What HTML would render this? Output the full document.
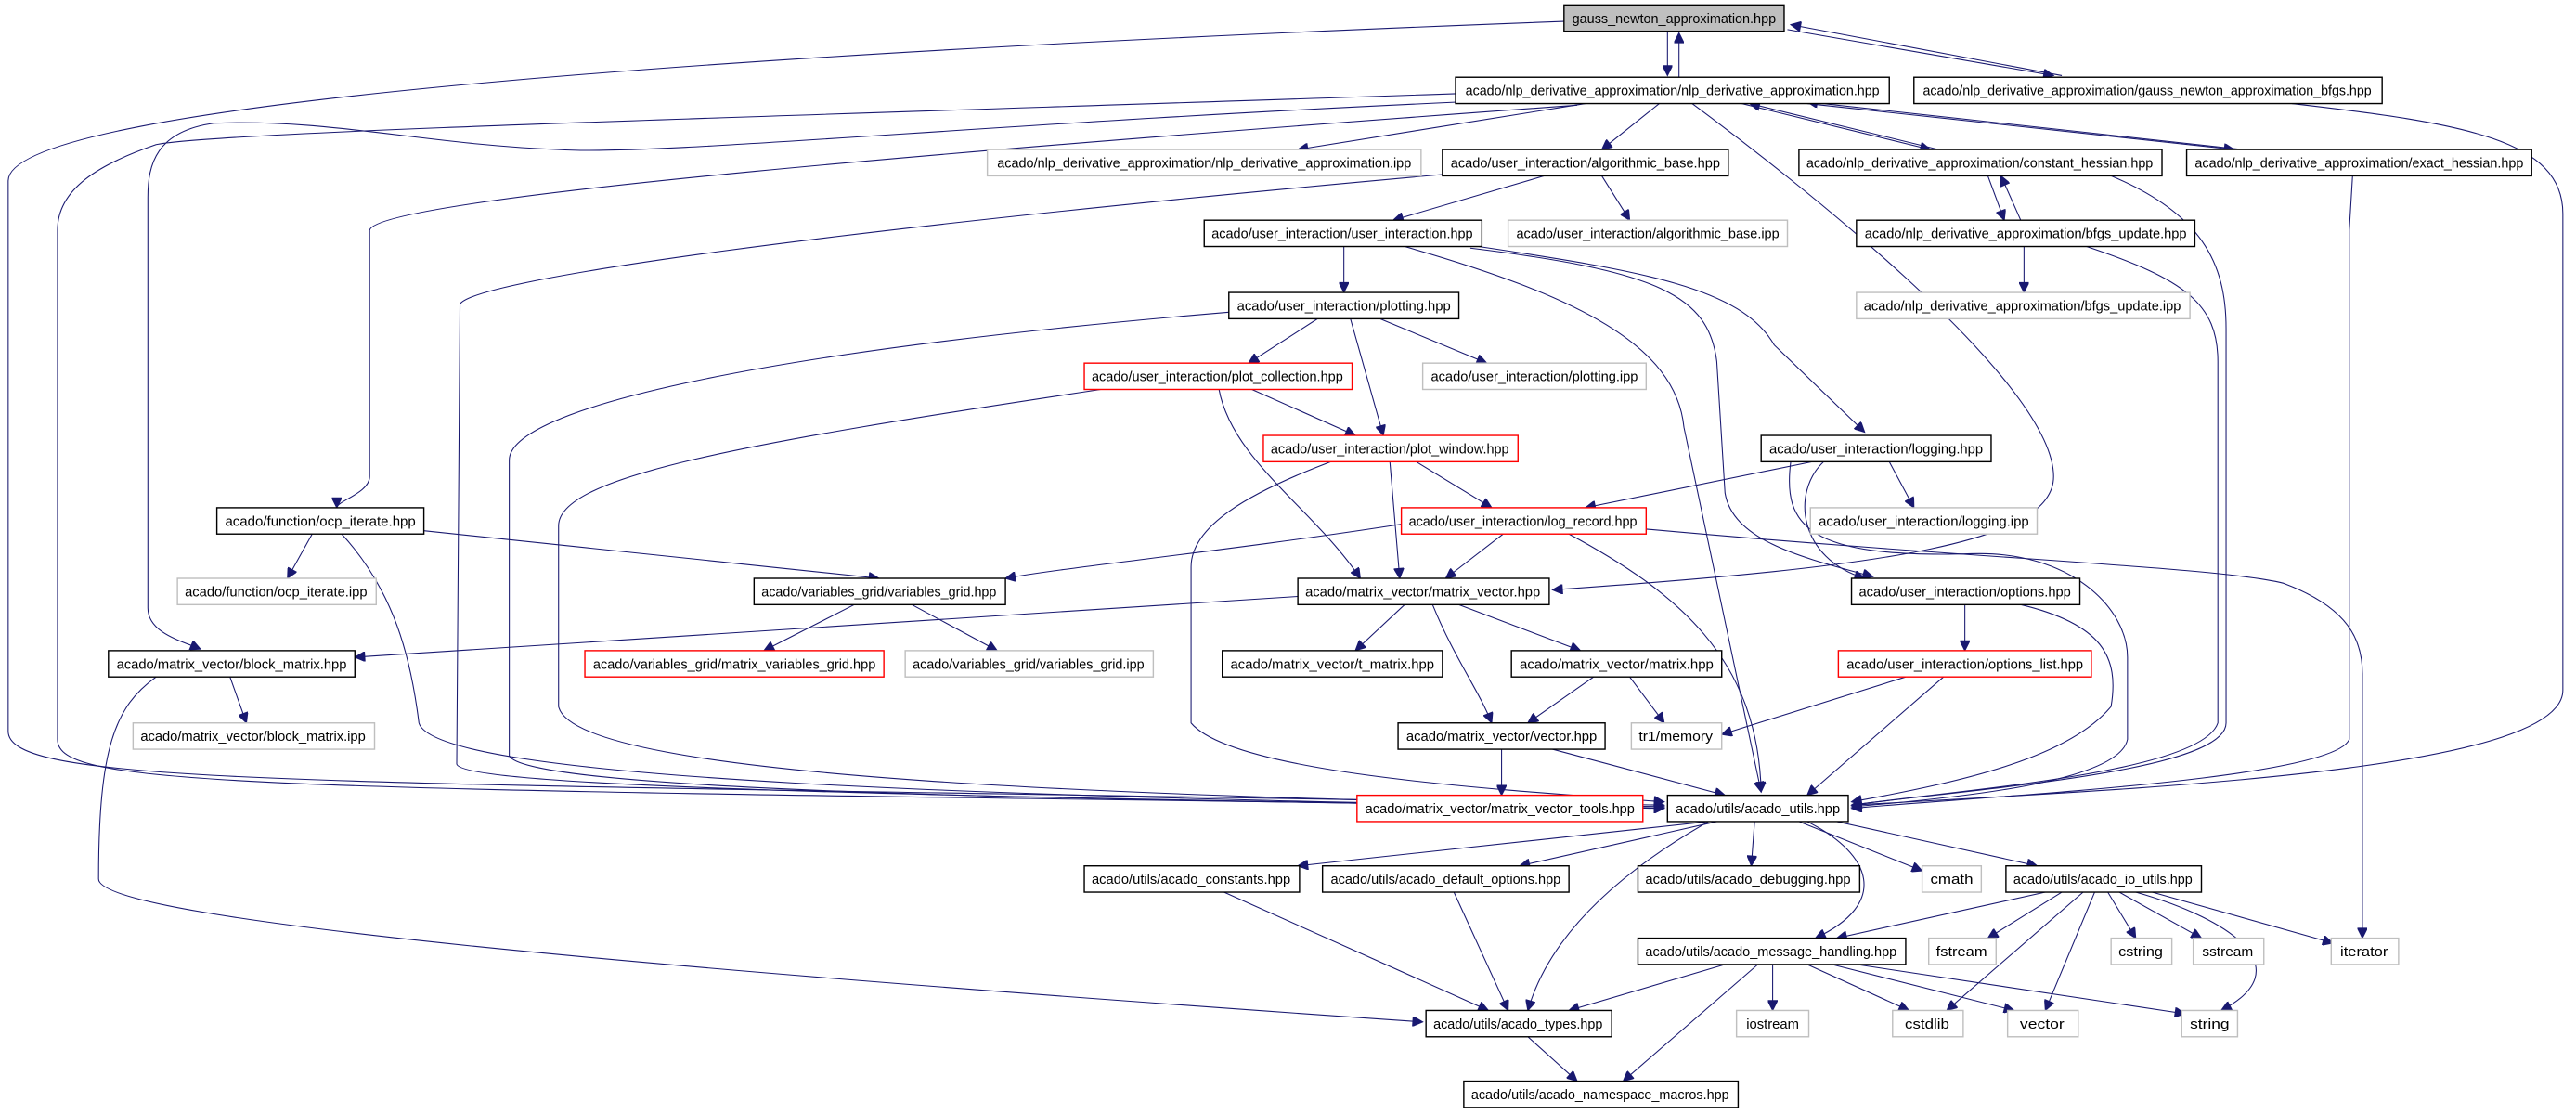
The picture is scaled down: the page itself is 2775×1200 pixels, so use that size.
<!DOCTYPE html>
<html><head><meta charset="utf-8"><style>
html,body{margin:0;padding:0;background:#fff;width:2775px;height:1200px;overflow:hidden}
svg{display:block}
text{font-family:"Liberation Sans","DejaVu Sans",sans-serif;font-size:8.5px;fill:#000}
.n{fill:#fff;stroke:#000;stroke-width:0.8}
.g{fill:#fff;stroke:#bfbfbf;stroke-width:0.8}
.r{fill:#fff;stroke:#ff0000;stroke-width:0.8}
.e path{fill:none;stroke:#191970;stroke-width:0.6;marker-end:url(#a)}
</style></head><body>
<svg width="2775" height="1200" viewBox="0 0 1568 678" xmlns="http://www.w3.org/2000/svg">
<defs><marker id="a" markerUnits="userSpaceOnUse" viewBox="0 0 10 10" markerWidth="8" markerHeight="6" refX="10" refY="5" orient="auto"><path d="M0,0 L10,5 L0,10 z" fill="#191970" stroke="#191970"/></marker></defs>
<g class="e">
<path d="M952,13 C500,30 5,60 5,110 L5,445 C5,480 200,475 1013,490"/>
<path d="M1015,19 L1015,46"/>
<path d="M1022,47 L1022,20"/>
<path d="M1088,18 L1250,46"/>
<path d="M1255,46 L1090,15"/>
<path d="M1395,63 C1500,75 1560,85 1560,130 L1560,420 C1560,470 1300,480 1127,490"/>
<path d="M890,62 C600,75 400,95 340,91 C260,88 200,72 130,75 C95,80 90,100 90,120 L90,370 C90,385 110,390 122,395"/>
<path d="M886,57 C500,70 130,80 95,88 C60,100 35,115 35,140 L35,450 C35,480 150,480 1013,491"/>
<path d="M960,64 C600,90 230,120 225,140 L225,290 C225,300 205,305 205,309"/>
<path d="M965,63 L790,91"/>
<path d="M1010,63 L975,91"/>
<path d="M1060,63 L1175,91"/>
<path d="M1180,91 L1065,63"/>
<path d="M1100,63 L1360,91"/>
<path d="M1365,91 L1100,62"/>
<path d="M1030,63 C1080,100 1250,230 1250,290 C1250,330 1150,345 945,359"/>
<path d="M940,107 L848,134"/>
<path d="M975,107 L992,134"/>
<path d="M880,106 C500,140 290,170 280,185 L278,465 C280,480 600,485 1013,492"/>
<path d="M1210,107 L1220,134"/>
<path d="M1230,134 L1218,107"/>
<path d="M1285,107 C1340,130 1355,160 1355,200 L1355,440 C1355,470 1200,480 1127,490"/>
<path d="M1432,107 L1430,140 L1430,450 C1420,475 1200,485 1127,492"/>
<path d="M1232,150 L1232,178"/>
<path d="M1270,150 C1330,170 1350,185 1350,220 L1350,440 C1340,470 1200,480 1127,490"/>
<path d="M818,150 L818,178"/>
<path d="M855,150 C960,180 1020,210 1025,260 L1072,482"/>
<path d="M900,150 C1000,165 1060,175 1080,210 L1135,263"/>
<path d="M895,151 C1010,165 1040,180 1045,220 L1050,300 C1055,330 1100,340 1140,351"/>
<path d="M802,194 L760,221"/>
<path d="M840,194 L905,221"/>
<path d="M822,194 L842,265"/>
<path d="M748,190 C450,215 310,250 310,280 L310,460 C320,480 600,487 1013,491"/>
<path d="M762,237 L825,265"/>
<path d="M742,237 C750,280 800,310 828,352"/>
<path d="M670,237 C450,270 340,290 340,320 L340,430 C350,475 700,485 1013,491"/>
<path d="M862,281 L908,309"/>
<path d="M846,281 L852,352"/>
<path d="M810,281 C760,300 725,320 725,345 L725,440 C750,470 900,480 1013,488"/>
<path d="M1103,281 L965,309"/>
<path d="M1150,281 L1165,309"/>
<path d="M1110,281 C1090,300 1095,340 1135,352"/>
<path d="M1090,281 C1085,320 1100,340 1200,337 C1260,335 1295,370 1295,400 L1295,450 C1290,475 1200,485 1127,491"/>
<path d="M955,325 C1020,360 1070,400 1072,482"/>
<path d="M853,319 C750,335 650,345 612,352"/>
<path d="M915,325 L880,352"/>
<path d="M1002,322 C1200,340 1350,345 1390,355 C1430,370 1438,390 1438,410 L1438,571"/>
<path d="M190,325 L175,352"/>
<path d="M258,323 L535,352"/>
<path d="M208,325 C240,360 250,400 255,440 C265,475 600,485 1013,492"/>
<path d="M520,368 L465,396"/>
<path d="M555,368 L607,396"/>
<path d="M790,363 L216,400"/>
<path d="M855,368 L825,396"/>
<path d="M888,368 L962,396"/>
<path d="M872,368 C885,400 900,420 908,440"/>
<path d="M970,412 L930,440"/>
<path d="M992,412 L1013,440"/>
<path d="M1196,368 L1196,396"/>
<path d="M1230,368 C1280,380 1290,400 1285,430 C1260,460 1200,475 1127,488"/>
<path d="M1160,412 L1048,447"/>
<path d="M1183,412 L1100,484"/>
<path d="M140,412 L150,440"/>
<path d="M95,412 C70,430 60,455 60,535 C60,560 400,590 866,622"/>
<path d="M914,456 L914,484"/>
<path d="M945,456 L1050,484"/>
<path d="M1040,500 L790,527"/>
<path d="M1045,500 L925,527"/>
<path d="M1068,500 L1066,527"/>
<path d="M1095,500 L1170,530"/>
<path d="M1118,500 L1240,527"/>
<path d="M1100,500 C1140,520 1150,550 1105,571"/>
<path d="M1040,500 C970,540 940,580 930,615"/>
<path d="M745,543 L906,615"/>
<path d="M885,543 L918,615"/>
<path d="M1245,543 L1118,571"/>
<path d="M1255,543 L1210,571"/>
<path d="M1283,543 L1300,571"/>
<path d="M1290,543 L1340,571"/>
<path d="M1310,543 L1420,574"/>
<path d="M1268,543 L1185,615"/>
<path d="M1275,543 L1245,615"/>
<path d="M1300,543 C1360,560 1400,590 1352,615"/>
<path d="M1050,587 L955,615"/>
<path d="M1079,587 L1079,615"/>
<path d="M1100,587 L1162,615"/>
<path d="M1115,587 L1226,615"/>
<path d="M1130,587 L1330,617"/>
<path d="M1070,587 L988,658"/>
<path d="M930,631 L960,658"/>
</g>
<g>
<rect x="952" y="3" width="134" height="16" class="n" style="fill:#bfbfbf"/><text x="1019" y="14" text-anchor="middle" textLength="124" lengthAdjust="spacingAndGlyphs">gauss_newton_approximation.hpp</text>
<rect x="886" y="47" width="264" height="16" class="n"/><text x="1018" y="58" text-anchor="middle" textLength="252" lengthAdjust="spacingAndGlyphs">acado/nlp_derivative_approximation/nlp_derivative_approximation.hpp</text>
<rect x="1165" y="47" width="285" height="16" class="n"/><text x="1307" y="58" text-anchor="middle" textLength="273" lengthAdjust="spacingAndGlyphs">acado/nlp_derivative_approximation/gauss_newton_approximation_bfgs.hpp</text>
<rect x="601" y="91" width="264" height="16" class="g"/><text x="733" y="102" text-anchor="middle" textLength="252" lengthAdjust="spacingAndGlyphs">acado/nlp_derivative_approximation/nlp_derivative_approximation.ipp</text>
<rect x="878" y="91" width="174" height="16" class="n"/><text x="965" y="102" text-anchor="middle" textLength="164" lengthAdjust="spacingAndGlyphs">acado/user_interaction/algorithmic_base.hpp</text>
<rect x="1095" y="91" width="221" height="16" class="n"/><text x="1205" y="102" text-anchor="middle" textLength="211" lengthAdjust="spacingAndGlyphs">acado/nlp_derivative_approximation/constant_hessian.hpp</text>
<rect x="1331" y="91" width="210" height="16" class="n"/><text x="1436" y="102" text-anchor="middle" textLength="200" lengthAdjust="spacingAndGlyphs">acado/nlp_derivative_approximation/exact_hessian.hpp</text>
<rect x="733" y="134" width="169" height="16" class="n"/><text x="817" y="145" text-anchor="middle" textLength="159" lengthAdjust="spacingAndGlyphs">acado/user_interaction/user_interaction.hpp</text>
<rect x="918" y="134" width="170" height="16" class="g"/><text x="1003" y="145" text-anchor="middle" textLength="160" lengthAdjust="spacingAndGlyphs">acado/user_interaction/algorithmic_base.ipp</text>
<rect x="1130" y="134" width="206" height="16" class="n"/><text x="1233" y="145" text-anchor="middle" textLength="196" lengthAdjust="spacingAndGlyphs">acado/nlp_derivative_approximation/bfgs_update.hpp</text>
<rect x="748" y="178" width="140" height="16" class="n"/><text x="818" y="189" text-anchor="middle" textLength="130" lengthAdjust="spacingAndGlyphs">acado/user_interaction/plotting.hpp</text>
<rect x="1130" y="178" width="203" height="16" class="g"/><text x="1231" y="189" text-anchor="middle" textLength="193" lengthAdjust="spacingAndGlyphs">acado/nlp_derivative_approximation/bfgs_update.ipp</text>
<rect x="660" y="221" width="163" height="16" class="r"/><text x="741" y="232" text-anchor="middle" textLength="153" lengthAdjust="spacingAndGlyphs">acado/user_interaction/plot_collection.hpp</text>
<rect x="866" y="221" width="136" height="16" class="g"/><text x="934" y="232" text-anchor="middle" textLength="126" lengthAdjust="spacingAndGlyphs">acado/user_interaction/plotting.ipp</text>
<rect x="769" y="265" width="155" height="16" class="r"/><text x="846" y="276" text-anchor="middle" textLength="145" lengthAdjust="spacingAndGlyphs">acado/user_interaction/plot_window.hpp</text>
<rect x="1072" y="265" width="140" height="16" class="n"/><text x="1142" y="276" text-anchor="middle" textLength="130" lengthAdjust="spacingAndGlyphs">acado/user_interaction/logging.hpp</text>
<rect x="853" y="309" width="149" height="16" class="r"/><text x="927" y="320" text-anchor="middle" textLength="139" lengthAdjust="spacingAndGlyphs">acado/user_interaction/log_record.hpp</text>
<rect x="1102" y="309" width="138" height="16" class="g"/><text x="1171" y="320" text-anchor="middle" textLength="128" lengthAdjust="spacingAndGlyphs">acado/user_interaction/logging.ipp</text>
<rect x="132" y="309" width="126" height="16" class="n"/><text x="195" y="320" text-anchor="middle" textLength="116" lengthAdjust="spacingAndGlyphs">acado/function/ocp_iterate.hpp</text>
<rect x="108" y="352" width="121" height="16" class="g"/><text x="168" y="363" text-anchor="middle" textLength="111" lengthAdjust="spacingAndGlyphs">acado/function/ocp_iterate.ipp</text>
<rect x="459" y="352" width="153" height="16" class="n"/><text x="535" y="363" text-anchor="middle" textLength="143" lengthAdjust="spacingAndGlyphs">acado/variables_grid/variables_grid.hpp</text>
<rect x="790" y="352" width="153" height="16" class="n"/><text x="866" y="363" text-anchor="middle" textLength="143" lengthAdjust="spacingAndGlyphs">acado/matrix_vector/matrix_vector.hpp</text>
<rect x="1127" y="352" width="139" height="16" class="n"/><text x="1196" y="363" text-anchor="middle" textLength="129" lengthAdjust="spacingAndGlyphs">acado/user_interaction/options.hpp</text>
<rect x="66" y="396" width="150" height="16" class="n"/><text x="141" y="407" text-anchor="middle" textLength="140" lengthAdjust="spacingAndGlyphs">acado/matrix_vector/block_matrix.hpp</text>
<rect x="356" y="396" width="182" height="16" class="r"/><text x="447" y="407" text-anchor="middle" textLength="172" lengthAdjust="spacingAndGlyphs">acado/variables_grid/matrix_variables_grid.hpp</text>
<rect x="551" y="396" width="151" height="16" class="g"/><text x="626" y="407" text-anchor="middle" textLength="141" lengthAdjust="spacingAndGlyphs">acado/variables_grid/variables_grid.ipp</text>
<rect x="744" y="396" width="134" height="16" class="n"/><text x="811" y="407" text-anchor="middle" textLength="124" lengthAdjust="spacingAndGlyphs">acado/matrix_vector/t_matrix.hpp</text>
<rect x="920" y="396" width="128" height="16" class="n"/><text x="984" y="407" text-anchor="middle" textLength="118" lengthAdjust="spacingAndGlyphs">acado/matrix_vector/matrix.hpp</text>
<rect x="1119" y="396" width="154" height="16" class="r"/><text x="1196" y="407" text-anchor="middle" textLength="144" lengthAdjust="spacingAndGlyphs">acado/user_interaction/options_list.hpp</text>
<rect x="81" y="440" width="147" height="16" class="g"/><text x="154" y="451" text-anchor="middle" textLength="137" lengthAdjust="spacingAndGlyphs">acado/matrix_vector/block_matrix.ipp</text>
<rect x="851" y="440" width="126" height="16" class="n"/><text x="914" y="451" text-anchor="middle" textLength="116" lengthAdjust="spacingAndGlyphs">acado/matrix_vector/vector.hpp</text>
<rect x="993" y="440" width="55" height="16" class="g"/><text x="1020" y="451" text-anchor="middle" textLength="45" lengthAdjust="spacingAndGlyphs">tr1/memory</text>
<rect x="826" y="484" width="174" height="16" class="r"/><text x="913" y="495" text-anchor="middle" textLength="164" lengthAdjust="spacingAndGlyphs">acado/matrix_vector/matrix_vector_tools.hpp</text>
<rect x="1015" y="484" width="110" height="16" class="n"/><text x="1070" y="495" text-anchor="middle" textLength="100" lengthAdjust="spacingAndGlyphs">acado/utils/acado_utils.hpp</text>
<rect x="660" y="527" width="131" height="16" class="n"/><text x="725" y="538" text-anchor="middle" textLength="121" lengthAdjust="spacingAndGlyphs">acado/utils/acado_constants.hpp</text>
<rect x="805" y="527" width="150" height="16" class="n"/><text x="880" y="538" text-anchor="middle" textLength="140" lengthAdjust="spacingAndGlyphs">acado/utils/acado_default_options.hpp</text>
<rect x="997" y="527" width="135" height="16" class="n"/><text x="1064" y="538" text-anchor="middle" textLength="125" lengthAdjust="spacingAndGlyphs">acado/utils/acado_debugging.hpp</text>
<rect x="1170" y="527" width="36" height="16" class="g"/><text x="1188" y="538" text-anchor="middle" textLength="26" lengthAdjust="spacingAndGlyphs">cmath</text>
<rect x="1221" y="527" width="119" height="16" class="n"/><text x="1280" y="538" text-anchor="middle" textLength="109" lengthAdjust="spacingAndGlyphs">acado/utils/acado_io_utils.hpp</text>
<rect x="997" y="571" width="163" height="16" class="n"/><text x="1078" y="582" text-anchor="middle" textLength="153" lengthAdjust="spacingAndGlyphs">acado/utils/acado_message_handling.hpp</text>
<rect x="1174" y="571" width="41" height="16" class="g"/><text x="1194" y="582" text-anchor="middle" textLength="31" lengthAdjust="spacingAndGlyphs">fstream</text>
<rect x="1285" y="571" width="37" height="16" class="g"/><text x="1303" y="582" text-anchor="middle" textLength="27" lengthAdjust="spacingAndGlyphs">cstring</text>
<rect x="1335" y="571" width="43" height="16" class="g"/><text x="1356" y="582" text-anchor="middle" textLength="31" lengthAdjust="spacingAndGlyphs">sstream</text>
<rect x="1419" y="571" width="41" height="16" class="g"/><text x="1439" y="582" text-anchor="middle" textLength="29" lengthAdjust="spacingAndGlyphs">iterator</text>
<rect x="868" y="615" width="113" height="16" class="n"/><text x="924" y="626" text-anchor="middle" textLength="103" lengthAdjust="spacingAndGlyphs">acado/utils/acado_types.hpp</text>
<rect x="1057" y="615" width="44" height="16" class="g"/><text x="1079" y="626" text-anchor="middle" textLength="32" lengthAdjust="spacingAndGlyphs">iostream</text>
<rect x="1152" y="615" width="43" height="16" class="g"/><text x="1173" y="626" text-anchor="middle" textLength="27" lengthAdjust="spacingAndGlyphs">cstdlib</text>
<rect x="1222" y="615" width="43" height="16" class="g"/><text x="1243" y="626" text-anchor="middle" textLength="27" lengthAdjust="spacingAndGlyphs">vector</text>
<rect x="1328" y="615" width="34" height="16" class="g"/><text x="1345" y="626" text-anchor="middle" textLength="24" lengthAdjust="spacingAndGlyphs">string</text>
<rect x="891" y="658" width="167" height="16" class="n"/><text x="974" y="669" text-anchor="middle" textLength="157" lengthAdjust="spacingAndGlyphs">acado/utils/acado_namespace_macros.hpp</text>
</g>
</svg>
</body></html>
